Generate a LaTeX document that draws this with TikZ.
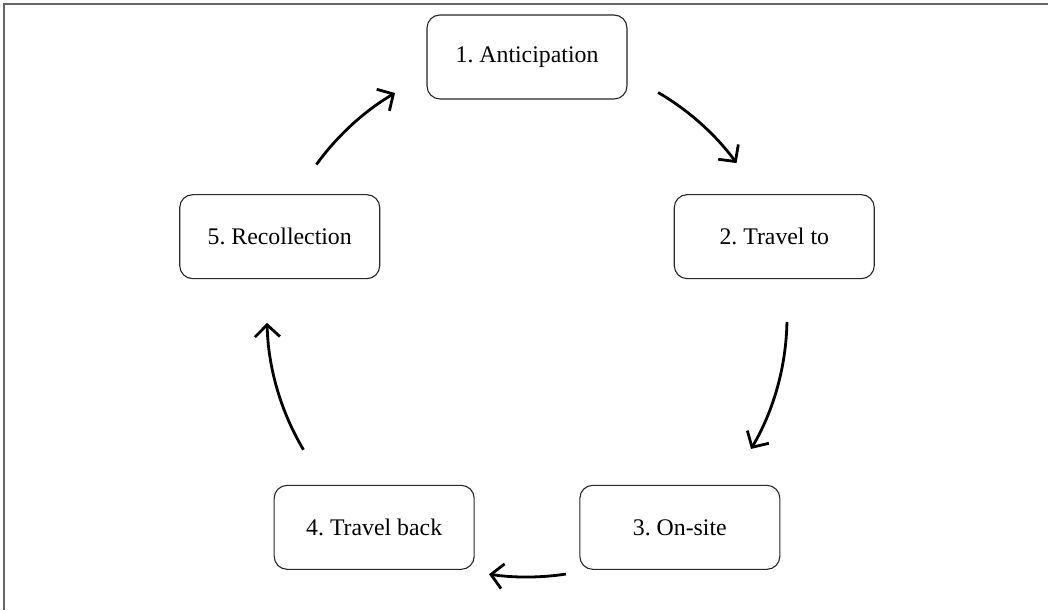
\documentclass[tikz,border=0pt]{standalone}
\usepackage{fontspec}
\setmainfont{Liberation Serif}
\usetikzlibrary{arrows.meta}
\frenchspacing
\begin{document}
\begin{tikzpicture}[x=1pt,y=1pt,
  stagebox/.style={draw=black!85, line width=1.1pt, rounded corners=13pt,
    minimum width=200pt, minimum height=84pt, inner sep=0pt,
    font=\fontsize{23.8}{28}\selectfont\frenchspacing},
  cyclearrow/.style={draw=black, line width=2.8pt,
    -{Straight Barb[length=12pt,width=25pt,line width=2.8pt]}},
  frameline/.style={draw=black!60, line width=1.5pt}]
\useasboundingbox (0,0) rectangle (1048,610);
\coordinate (C) at (527,293);
\coordinate (TL) at (4,606);
\coordinate (TR) at (1048,606);
\coordinate (BL) at (4,0);
\draw[frameline] (BL) -- (TL) -- (TR);
\node[stagebox] (s1) at ([shift={(90:260)}]C) {1. Anticipation};
\node[stagebox] (s2) at ([shift={(18:260)}]C) {2. Travel to};
\node[stagebox] (s3) at ([shift={(-54:260)}]C) {3. On-site};
\node[stagebox] (s4) at ([shift={(-126:260)}]C) {4. Travel back};
\node[stagebox] (s5) at ([shift={(162:260)}]C) {5. Recollection};
\draw[cyclearrow] ([shift={(59.7:260)}]C) arc[start angle=59.7, end angle=36.3, radius=260];
\draw[cyclearrow] ([shift={(-1.1:260)}]C) arc[start angle=-1.1, end angle=-30.5, radius=260];
\draw[cyclearrow] ([shift={(-81.4:260)}]C) arc[start angle=-81.4, end angle=-98.4, radius=260];
\draw[cyclearrow] ([shift={(-149.3:260)}]C) arc[start angle=-149.3, end angle=-178.7, radius=260];
\draw[cyclearrow] ([shift={(144.1:260)}]C) arc[start angle=144.1, end angle=120.5, radius=260];
\end{tikzpicture}
\end{document}
